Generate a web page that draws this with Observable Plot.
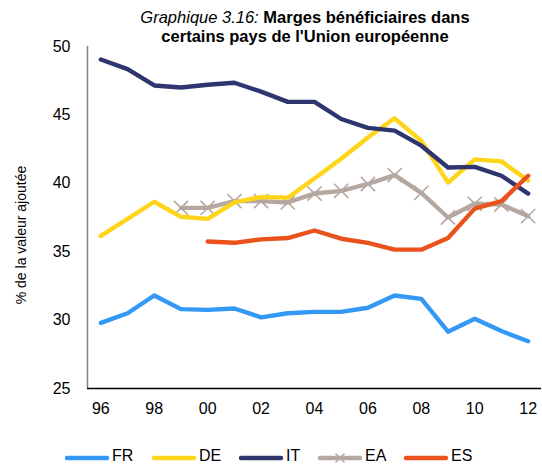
<!DOCTYPE html>
<html>
<head>
<meta charset="utf-8">
<script src="https://cdn.jsdelivr.net/npm/d3@7"></script>
<script src="https://cdn.jsdelivr.net/npm/@observablehq/plot@0.6"></script>
<style>
  html, body { margin: 0; padding: 0; background: #fff; }
  #wrap { position: relative; width: 542px; height: 465px; font-family: "Liberation Sans", Arial, sans-serif; overflow: hidden; }
  #title { position: absolute; left: 0; width: 610px; top: 8px; text-align: center; font-size: 16.5px; line-height: 19px; font-weight: bold; color: #000; }
  #title i { font-weight: normal; }
  #ylabel { position: absolute; left: 21px; top: 235px; transform: translate(-50%, -50%) rotate(-90deg); font-size: 14px; white-space: nowrap; color: #000; }
  #legend { position: absolute; top: 445px; left: 0; width: 542px; height: 20px; }
  #chart { position: absolute; left: 0; top: 0; }
</style>
</head>
<body>
<div id="wrap">
  <div id="chart"></div>
  <div id="title"><i>Graphique 3.16:</i> Marges bénéficiaires dans<br>certains pays de l'Union européenne</div>
  <div id="ylabel">% de la valeur ajoutée</div>
  <div id="legend"></div>
</div>
<script>
const years = [1996,1997,1998,1999,2000,2001,2002,2003,2004,2005,2006,2007,2008,2009,2010,2011,2012];
const FR = [29.8,30.5,31.8,30.8,30.75,30.85,30.2,30.5,30.6,30.6,30.9,31.8,31.55,29.15,30.1,29.2,28.45];
const DE = [36.15,37.4,38.65,37.55,37.4,38.6,39.0,38.95,40.35,41.8,43.35,44.75,43.1,40.05,41.75,41.6,40.2];
const IT = [49.05,48.35,47.15,47.0,47.2,47.35,46.7,45.95,45.95,44.7,44.05,43.85,42.75,41.15,41.2,40.55,39.25];
const EA = [null,null,null,38.2,38.2,38.7,38.7,38.6,39.25,39.45,39.95,40.6,39.3,37.5,38.5,38.45,37.6];
const ES = [null,null,null,null,35.75,35.65,35.9,36.0,36.55,35.95,35.65,35.15,35.15,36.0,38.15,38.7,40.55];
const yTicks = [25,30,35,40,45,50];
const xTicks = [1996,1998,2000,2002,2004,2006,2008,2010,2012];

const seriesNames = ["FR","DE","IT","EA","ES"];
const seriesValues = {FR, DE, IT, EA, ES};
const colors = {FR:"#3399f5", DE:"#ffd51a", IT:"#2e356f", EA:"#b5a8a1", ES:"#e9521c"};

const rows = [];
for (const s of seriesNames) {
  seriesValues[s].forEach((v, i) => { if (v != null) rows.push({series: s, year: years[i], value: v}); });
}

const lineMarks = ["EA","DE","IT","FR","ES"].map(s =>
  Plot.line(rows.filter(d => d.series === s), {x: "year", y: "value", stroke: colors[s], strokeWidth: 4.4, strokeLinejoin: "round", strokeLinecap: "round"})
);

const chart = Plot.plot({
  width: 542,
  height: 425,
  marginLeft: 87,
  marginRight: 1,
  marginTop: 46,
  marginBottom: 37,
  style: {fontFamily: "Liberation Sans, Arial, sans-serif", fontSize: "16px", color: "#000", background: "transparent"},
  x: {domain: [1995.5, 2012.5], label: null},
  y: {domain: [25, 50], label: null},
  marks: [
    Plot.axisY({ticks: yTicks, tickSize: 0, tickPadding: 17, label: null, fontSize: 16, textAnchor: "end"}),
    Plot.axisX({ticks: xTicks, tickSize: 0, tickPadding: 14, label: null, fontSize: 16, tickFormat: d => String(d % 100).padStart(2, "0")}),
    Plot.ruleX([1995.5], {stroke: "#808080", strokeWidth: 1.5}),
    ...lineMarks.slice(0, 1),
    Plot.dot(rows.filter(d => d.series === "EA"), {x: "year", y: "value", symbol: "times", r: 6.5, stroke: colors.EA, strokeWidth: 1.6}),
    ...lineMarks.slice(1),
    Plot.ruleY([25], {stroke: "#000", strokeWidth: 1.3})
  ]
});
document.getElementById("chart").appendChild(chart);

// Legend
const lg = d3.select("#legend").append("svg").attr("width", 542).attr("height", 20)
  .style("font-family", "Liberation Sans, Arial, sans-serif");
const legendPos = {FR: 65, DE: 152, IT: 239, EA: 318, ES: 404};
for (const s of seriesNames) {
  const x0 = legendPos[s];
  const g = lg.append("g");
  g.append("line").attr("x1", x0 + 2).attr("x2", x0 + 42).attr("y1", 13).attr("y2", 13)
    .attr("stroke", colors[s]).attr("stroke-width", 4.4).attr("stroke-linecap", "round");
  if (s === "EA") {
    const cx = x0 + 22, r = 4.5;
    g.append("path").attr("d", `M${cx-r},${13-r}L${cx+r},${13+r}M${cx-r},${13+r}L${cx+r},${13-r}`)
      .attr("stroke", colors[s]).attr("stroke-width", 1.5);
  }
  g.append("text").attr("x", x0 + 47).attr("y", 16).attr("font-size", 16).attr("fill", "#000").text(s);
}
</script>
</body>
</html>
